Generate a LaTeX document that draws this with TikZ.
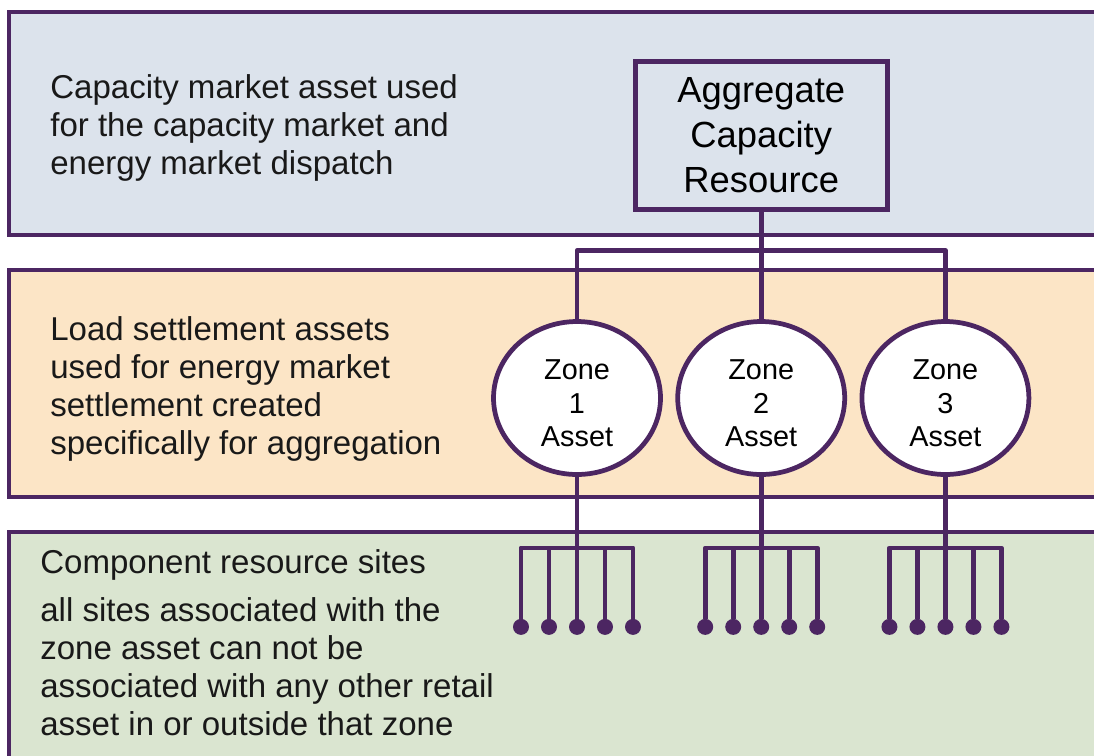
\documentclass[tikz,border=0pt]{standalone}
\usepackage{fontspec}
\setmainfont{Liberation Sans}
\usepackage{tikz}
\usetikzlibrary{
    calc,positioning,shapes.geometric
}
\definecolor{edge}{RGB}{76,38,98}
\definecolor{capfill}{RGB}{220,227,236}
\definecolor{loadfill}{RGB}{252,229,198}
\definecolor{sitefill}{RGB}{218,229,208}
\tikzset{
    band/.style={draw=edge, line width=2.7pt},
    note/.style={anchor=west, inner sep=0pt, align=left, text=black!90, font=\fontsize{18.8}{21.6}\selectfont},
    acr_block/.style={rectangle, draw=edge, line width=2.7pt, fill=capfill, minimum width=5.04cm, minimum height=2.96cm, align=center, font=\fontsize{20.7}{25.6}\selectfont},
    zone_asset/.style={ellipse, draw=edge, line width=2.7pt, fill=white, minimum width=3.34cm, minimum height=3.06cm, inner sep=0pt, text height=55.6pt, align=center, font=\fontsize{16.4}{19}\selectfont},
    site/.style={circle, fill=edge, inner sep=0pt, minimum size=0.32cm},
    line/.style={draw=edge, line width=2.7pt, line join=round},
}
\begin{document}
\begin{tikzpicture}
        [x=0.02cm, y=-0.02cm, node distance=0.25cm]

        \useasboundingbox (0,0) rectangle (1094,755);
        \clip (0,0) rectangle (1094,755);
        \fill[white] (0,0) rectangle (1094,755);

        % Three layers
        \draw[band, fill=capfill] (9,12) rectangle (1110,235);
        \draw[band, fill=loadfill] (9,270) rectangle (1110,497);
        \draw[band, fill=sitefill] (9,532) rectangle (1110,790);

        \node[note] (capnote) at (50,128) {Capacity market asset used\\for the capacity market and\\energy market dispatch};
        \node[note] (loadnote) at (50,389) {Load settlement assets\\used for energy market\\settlement created\\specifically for aggregation};
        \node[note] (sitenote) at (40,643) {Component resource sites\\[0.2cm]all sites associated with the\\zone asset can not be\\associated with any other retail\\asset in or outside that zone};

        % Zone assets and the aggregate resource
        \node[zone_asset] (z1) at (577,398) {Zone\\1\\Asset};
        \node[zone_asset,right=of z1] (z2) {Zone\\2\\Asset};
        \node[zone_asset,right=of z2] (z3) {Zone\\3\\Asset};
        \node[acr_block,above=2.15cm of z2] (acr) {Aggregate\\Capacity\\Resource};

        % Lines
        \coordinate (bus) at ($(acr.south)+(0,39)$);
        \draw[line] (acr) -- (z2);
        \draw[line] (z1.north) |- (bus) -| (z3.north);

        % Sites under each zone
        \foreach \z in {1,2,3} {
            \foreach \s/\dx in {1/-56,2/-28,3/0,4/28,5/56}
                \node[site] (s\z\s) at ($(z\z.south)+(\dx,150)$) {};
            \draw[line] (z\z.south) -- (s\z3);
            \draw[line] (s\z1) -- ++(0,-79) -| (s\z5);
            \draw[line] (s\z2) -- ++(0,-79);
            \draw[line] (s\z4) -- ++(0,-79);
        }

    \end{tikzpicture}
\end{document}
